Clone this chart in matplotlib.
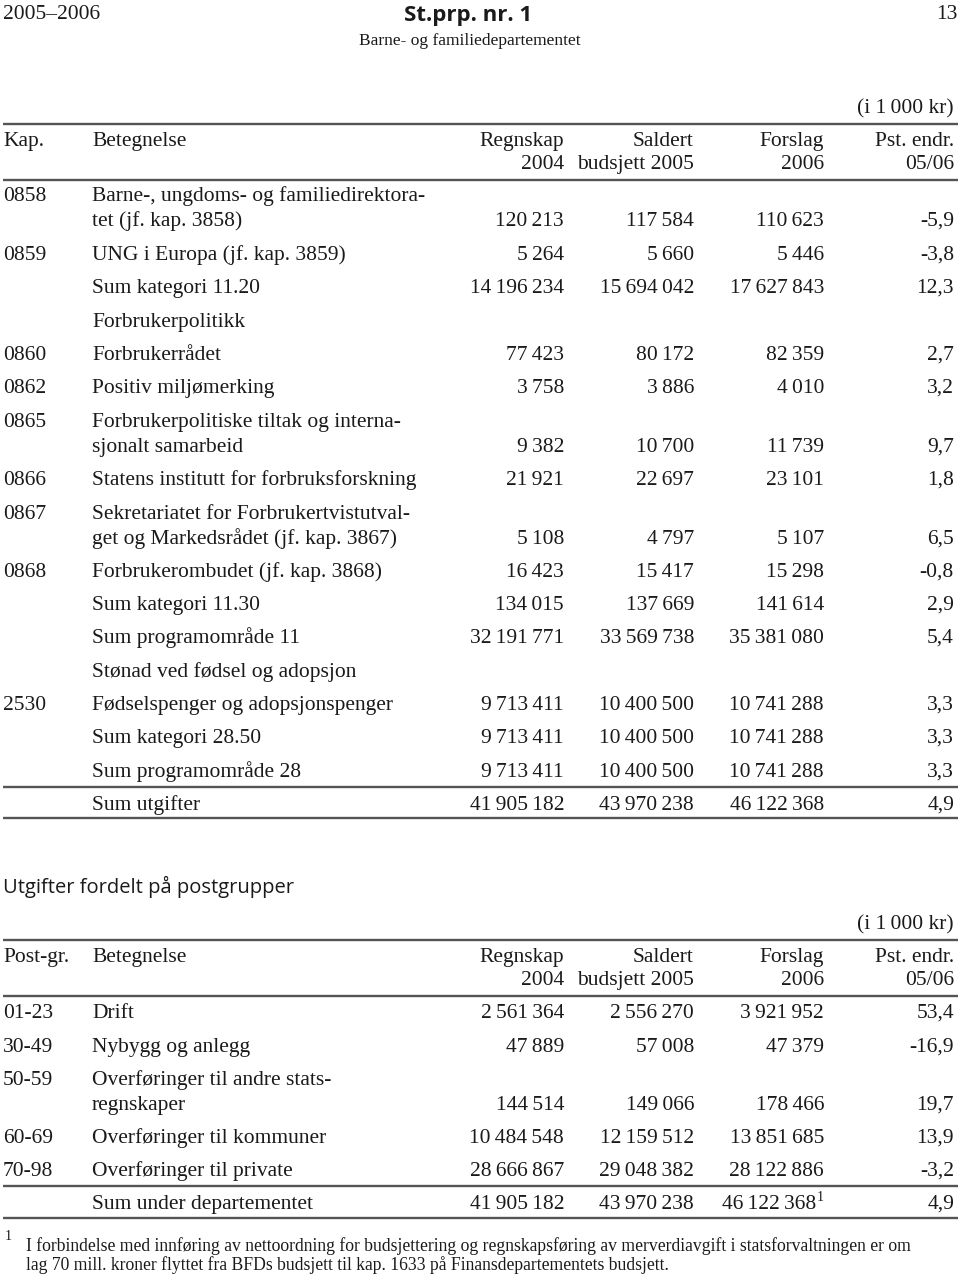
import matplotlib.pyplot as plt

# tabell 1: kapitler
kap = ["0858", "0859", "", "", "0860", "0862", "0865", "0866", "0867", "0868",
       "", "", "", "2530", "", "", ""]
betegnelse = [
    "Barne-, ungdoms- og familiedirektora-\ntet (jf. kap. 3858)",
    "UNG i Europa (jf. kap. 3859)",
    "Sum kategori 11.20",
    "Forbrukerpolitikk",
    "Forbrukerrådet",
    "Positiv miljømerking",
    "Forbrukerpolitiske tiltak og interna-\nsjonalt samarbeid",
    "Statens institutt for forbruksforskning",
    "Sekretariatet for Forbrukertvistutval-\nget og Markedsrådet (jf. kap. 3867)",
    "Forbrukerombudet (jf. kap. 3868)",
    "Sum kategori 11.30",
    "Sum programområde 11",
    "Stønad ved fødsel og adopsjon",
    "Fødselspenger og adopsjonspenger",
    "Sum kategori 28.50",
    "Sum programområde 28",
    "Sum utgifter",
]
regnskap_2004 = [120213, 5264, 14196234, None, 77423, 3758, 9382, 21921, 5108, 16423,
                 134015, 32191771, None, 9713411, 9713411, 9713411, 41905182]
saldert_2005 = [117584, 5660, 15694042, None, 80172, 3886, 10700, 22697, 4797, 15417,
                137669, 33569738, None, 10400500, 10400500, 10400500, 43970238]
forslag_2006 = [110623, 5446, 17627843, None, 82359, 4010, 11739, 23101, 5107, 15298,
                141614, 35381080, None, 10741288, 10741288, 10741288, 46122368]
pst_endr = [-5.9, -3.8, 12.3, None, 2.7, 3.2, 9.7, 1.8, 6.5, -0.8,
            2.9, 5.4, None, 3.3, 3.3, 3.3, 4.9]
rad_y = [219, 253, 286, 320, 353, 386, 445, 478, 537, 570, 603, 636, 670, 703, 736, 770, 803]

# tabell 2: postgrupper
postgr = ["01-23", "30-49", "50-59", "60-69", "70-98", ""]
post_betegnelse = ["Drift", "Nybygg og anlegg", "Overføringer til andre stats-\nregnskaper",
                   "Overføringer til kommuner", "Overføringer til private",
                   "Sum under departementet"]
post_2004 = [2561364, 47889, 144514, 10484548, 28666867, 41905182]
post_2005 = [2556270, 57008, 149066, 12159512, 29048382, 43970238]
post_2006 = [3921952, 47379, 178466, 13851685, 28122886, 46122368]
post_pst = [53.4, -16.9, 19.7, 13.9, -3.2, 4.9]
post_y = [1011, 1045, 1103, 1136, 1169, 1202]

SERIF = "Liberation Serif"
FS = 15.5
col_x = [564, 694, 824, 954]


def fmt(n):
    return f"{n:,}".replace(",", "\u2009")


def pct(v):
    return f"{v:.1f}".replace(".", ",")


fig = plt.figure(figsize=(9.6, 12.77), dpi=100)
ax = fig.add_axes([0, 0, 1, 1])
ax.set_xlim(0, 960)
ax.set_ylim(1277, 0)
ax.axis("off")


def txt(x, y, s, ha="left", **kw):
    ax.text(x, y, s, ha=ha, va="baseline", family=SERIF, fontsize=kw.pop("fs", FS),
            color="#1a1a1a", **kw)


def hline(y):
    ax.plot([3, 958], [y, y], color="#555555", lw=1.7, solid_capstyle="butt")


# sidehode
txt(3, 19, "2005–2006")
txt(958, 19, "13", ha="right")
ax.text(468, 21, "St.prp. nr. 1", ha="center", va="baseline", family="Open Sans",
        fontweight="bold", fontsize=16, color="#1a1a1a")
txt(470, 45, "Barne- og familiedepartementet", ha="center", fs=12.5)


def header(y0, first):
    txt(954, y0 - 27, "(i 1\u2009000 kr)", ha="right")
    hline(y0 - 16)
    txt(3, y0 + 6, first)
    txt(92, y0 + 6, "Betegnelse")
    for x, a, b in zip(col_x, ["Regnskap", "Saldert", "Forslag", "Pst. endr."],
                       ["2004", "budsjett 2005", "2006", "05/06"]):
        txt(x, y0 + 6, a, ha="right")
        txt(x, y0 + 29, b, ha="right")
    hline(y0 + 40)


# tabell 1
header(140, "Kap.")
for i in range(len(betegnelse)):
    yb = rad_y[i] + 7
    nlines = betegnelse[i].count("\n")
    ytop = yb - 25 * nlines
    txt(3, ytop, kap[i])
    txt(92, ytop, betegnelse[i].split("\n")[0])
    if nlines:
        txt(92, yb, betegnelse[i].split("\n")[1])
    if regnskap_2004[i] is not None:
        for x, v in zip(col_x[:3], [regnskap_2004[i], saldert_2005[i], forslag_2006[i]]):
            txt(x, yb, fmt(v), ha="right")
        txt(col_x[3], yb, pct(pst_endr[i]), ha="right")
hline(787)
hline(818)

# tabell 2
ax.text(3, 893, "Utgifter fordelt på postgrupper", ha="left", va="baseline",
        family="Open Sans", fontsize=14.5, color="#1a1a1a")
header(956, "Post-gr.")
for i in range(len(post_betegnelse)):
    yb = post_y[i] + 7
    nlines = post_betegnelse[i].count("\n")
    ytop = yb - 25 * nlines
    txt(3, ytop, postgr[i])
    txt(92, ytop, post_betegnelse[i].split("\n")[0])
    if nlines:
        txt(92, yb, post_betegnelse[i].split("\n")[1])
    vals = [post_2004[i], post_2005[i], post_2006[i]]
    for j, (x, v) in enumerate(zip(col_x[:3], vals)):
        if i == len(post_betegnelse) - 1 and j == 2:
            txt(x - 8, yb, fmt(v), ha="right")
            txt(x - 7, yb - 8, "1", fs=10)
        else:
            txt(x, yb, fmt(v), ha="right")
    txt(col_x[3], yb, pct(post_pst[i]), ha="right")
hline(1186)
hline(1218)

# fotnote
txt(5, 1240, "1", fs=10)
txt(26, 1251, "I forbindelse med innføring av nettoordning for budsjettering og regnskapsføring "
    "av merverdiavgift i statsforvaltningen er om", fs=12.7)
txt(26, 1270, "lag 70 mill. kroner flyttet fra BFDs budsjett til kap. 1633 på "
    "Finansdepartementets budsjett.", fs=12.7)

fig.savefig("out.png", dpi=100)
